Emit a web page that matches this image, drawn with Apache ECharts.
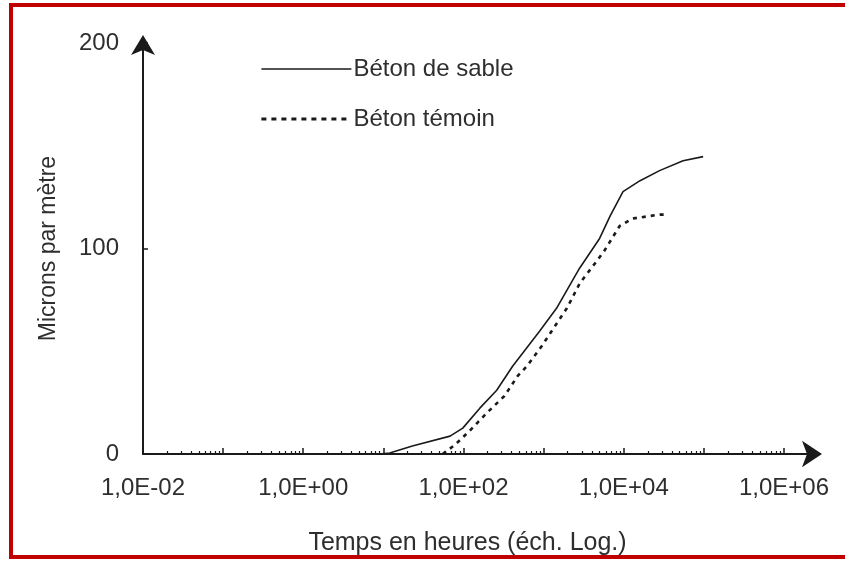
<!DOCTYPE html>
<html>
<head>
<meta charset="utf-8">
<script src="https://cdn.jsdelivr.net/npm/echarts@6/dist/echarts.min.js"></script>
<style>
  html, body { margin: 0; padding: 0; background: #ffffff; }
  #chart { width: 845px; height: 561px; }
</style>
</head>
<body>
<div id="chart"></div>
<script>
// Retrait (microns par mètre) en fonction du temps (heures, échelle log)
const sableHours  = [9, 12, 23, 68, 98, 160, 260, 410, 890, 1450, 2800, 5000, 6800, 9800, 16000, 28000, 55000, 98000];
const sableValues = [0, 0.5, 3.9, 8.7, 12.6, 22.3, 31, 42.7, 59.7, 70.9, 90.3, 104.9, 116, 127.7, 133, 137.9, 142.7, 144.7];

const temoinHours  = [55, 78, 119, 195, 324, 473, 617, 944, 1380, 1950, 2820, 4365, 5754, 8913, 12882, 28184, 34674];
const temoinValues = [0, 4.4, 11.2, 19.9, 28.2, 37.9, 42.7, 52.4, 62.1, 70.9, 83, 92.7, 99, 111, 114.6, 116.5, 116.5];

const seriesNames = ['Béton de sable', 'Béton témoin'];

// Graduations de l'axe des temps
const xLabelValues = [0.01, 1, 100, 1e4, 1e6];
const xLabelTexts  = ['1,0E-02', '1,0E+00', '1,0E+02', '1,0E+04', '1,0E+06'];
const decadeTicks  = [0.01, 0.1, 1, 10, 100, 1e3, 1e4, 1e5, 1e6];
const yTicks       = [0, 100, 200];

const minorTicks = [];
for (let e = -2; e < 6; e++) {
  for (let k = 2; k <= 9; k++) minorTicks.push(k * Math.pow(10, e));
}

const FONT = '"Liberation Sans", Arial, sans-serif';
const INK = '#1a1a1a';
const TEXT = '#2e2e2e';

const solidStyle = { color: INK, width: 1.6, type: 'solid' };
const dashStyle  = { color: INK, width: 2.6, type: [4, 5] };

const chart = echarts.init(document.getElementById('chart'), null, { renderer: 'canvas' });

const xMin = 0.01;
const xMax = Math.pow(10, 6.35);

chart.setOption({
  backgroundColor: '#ffffff',
  animation: false,
  grid: { left: 143, right: 33, top: 43, bottom: 106, containLabel: false },
  legend: {
    show: true,
    orient: 'vertical',
    left: 255,
    top: 52,
    itemWidth: 90,
    itemHeight: 14,
    itemGap: 26,
    itemStyle: { opacity: 0 },
    textStyle: { fontFamily: FONT, fontSize: 24, color: TEXT, padding: [0, 0, 0, -3] },
    data: [
      { name: seriesNames[0], lineStyle: { width: 1.6, type: 'solid' } },
      { name: seriesNames[1], lineStyle: { width: 2.8, type: [5, 5] } }
    ]
  },
  xAxis: [
    {
      type: 'log',
      logBase: 10,
      min: xMin,
      max: xMax,
      name: 'Temps en heures (éch. Log.)',
      nameLocation: 'middle',
      nameGap: 77,
      nameTextStyle: { fontFamily: FONT, fontSize: 25, color: TEXT, padding: [0, 20, 0, 0] },
      axisLine: {
        show: true,
        lineStyle: { color: INK, width: 2 },
        symbol: ['none', 'arrow'],
        symbolSize: [20, 20],
        symbolOffset: [0, 10]
      },
      axisTick: { show: true, inside: true, length: 6, customValues: decadeTicks, lineStyle: { color: INK, width: 1.5 } },
      axisLabel: {
        show: true,
        margin: 22,
        customValues: xLabelValues,
        fontFamily: FONT,
        fontSize: 24,
        color: TEXT,
        formatter: function (v) {
          const i = xLabelValues.findIndex(function (x) { return Math.abs(Math.log10(x) - Math.log10(v)) < 1e-6; });
          return i >= 0 ? xLabelTexts[i] : '';
        }
      },
      splitLine: { show: false }
    },
    {
      type: 'log',
      logBase: 10,
      min: xMin,
      max: xMax,
      position: 'bottom',
      axisLine: { show: false },
      axisTick: { show: true, inside: true, length: 3, customValues: minorTicks, lineStyle: { color: INK, width: 1.2 } },
      axisLabel: { show: false },
      splitLine: { show: false }
    }
  ],
  yAxis: {
    type: 'value',
    min: 0,
    max: 200,
    interval: 100,
    name: 'Microns par mètre',
    nameLocation: 'middle',
    nameGap: 83,
    nameRotate: 90,
    nameTextStyle: { fontFamily: FONT, fontSize: 23, color: TEXT },
    axisLine: {
      show: true,
      lineStyle: { color: INK, width: 2 },
      symbol: ['none', 'arrow'],
      symbolSize: [18, 20],
      symbolOffset: [0, 8]
    },
    axisTick: { show: true, inside: true, length: 5, customValues: yTicks, lineStyle: { color: INK, width: 1.5 } },
    axisLabel: { show: true, margin: 24, fontFamily: FONT, fontSize: 24, color: TEXT },
    splitLine: { show: false }
  },
  series: [
    {
      name: seriesNames[0],
      type: 'line',
      xAxisIndex: 0,
      showSymbol: false,
      symbol: 'none',
      data: sableHours.map(function (h, i) { return [h, sableValues[i]]; }),
      lineStyle: solidStyle,
      itemStyle: { color: INK },
      z: 3
    },
    {
      name: seriesNames[1],
      type: 'line',
      xAxisIndex: 0,
      showSymbol: false,
      symbol: 'none',
      data: temoinHours.map(function (h, i) { return [h, temoinValues[i]]; }),
      lineStyle: dashStyle,
      itemStyle: { color: INK },
      z: 3
    }
  ],
  graphic: [
    {
      type: 'rect',
      silent: true,
      shape: { x: 11, y: 5, width: 845, height: 552 },
      style: { fill: 'none', stroke: '#c00000', lineWidth: 4 },
      z: 100
    }
  ]
});
</script>
</body>
</html>
